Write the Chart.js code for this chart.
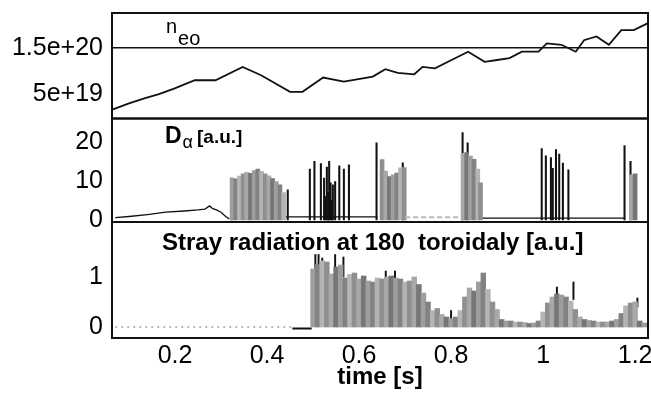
<!DOCTYPE html>
<html>
<head>
<meta charset="utf-8">
<script src="https://cdn.jsdelivr.net/npm/chart.js@4/dist/chart.umd.min.js"></script>
<style>
  html, body { margin: 0; padding: 0; background: #fff; }
  #wrap { width: 651px; height: 396px; }
</style>
</head>
<body>
<div id="wrap"><canvas id="chart" width="651" height="396"></canvas></div>
<script>
// tick labels
var timeTicks = [0.2, 0.4, 0.6, 0.8, 1, 1.2];
var neTicks = [5e19, 1.5e20];
var daTicks = [0, 10, 20];
var strayTicks = [0, 1];

// electron density n_eo (m^-3)
var neT = [0.065, 0.10, 0.135, 0.165, 0.198, 0.243, 0.288, 0.347, 0.387, 0.45, 0.477, 0.522, 0.567, 0.63, 0.657, 0.684, 0.72, 0.738, 0.765, 0.801, 0.837, 0.873, 0.90, 0.927, 0.954, 0.99, 1.008, 1.04, 1.071, 1.089, 1.116, 1.143, 1.17, 1.197, 1.228];
var neV = [0.17e20, 0.30e20, 0.41e20, 0.50e20, 0.62e20, 0.80e20, 0.80e20, 1.09e20, 0.91e20, 0.55e20, 0.55e20, 0.86e20, 0.77e20, 0.88e20, 1.04e20, 0.96e20, 0.93e20, 1.09e20, 1.06e20, 1.24e20, 1.42e20, 1.20e20, 1.24e20, 1.28e20, 1.42e20, 1.42e20, 1.60e20, 1.57e20, 1.42e20, 1.67e20, 1.75e20, 1.57e20, 1.89e20, 1.89e20, 2.04e20];

// D alpha: slow signal before the first burst
var daLineT = [0.07, 0.10, 0.14, 0.18, 0.22, 0.25, 0.265, 0.275, 0.282, 0.29, 0.30, 0.31, 0.318];
var daLineV = [0.6, 0.9, 1.4, 2.0, 2.3, 2.6, 2.8, 3.6, 2.9, 2.6, 2.0, 0.9, 0.3];
// D alpha: baseline between bursts
var daBaseT = [0.44, 0.64, 0.645, 0.865, 1.178];
var daBaseV = [0.8, 0.8, null, 0.5, 0.5];
var daFaintT = [0.70, 0.822];
var daFaintV = [0.7, 0.7];
// D alpha: grey bursts
var daGrayT = [0.324, 0.332, 0.340, 0.348, 0.356, 0.364, 0.372, 0.380, 0.388, 0.396, 0.404, 0.412, 0.420, 0.428, 0.436,
               0.650, 0.658, 0.666, 0.674, 0.682, 0.690, 0.698,
               0.826, 0.834, 0.842, 0.850, 0.858, 0.864,
               1.192, 1.200];
var daGrayV = [10.7, 10.5, 11.2, 11.8, 12.2, 11.9, 12.6, 13.0, 12.4, 11.8, 11.3, 10.6, 9.8, 9.0, 7.0,
               15.4, 12.5, 11.1, 11.5, 12.0, 13.3, 13.4,
               17.0, 17.2, 16.3, 15.5, 13.0, 9.5,
               11.5, 11.8];
// D alpha: ELM spikes
var daSpikeT = [0.323, 0.445, 0.493, 0.503, 0.517, 0.524, 0.527, 0.530, 0.533, 0.535, 0.538, 0.541, 0.543, 0.548, 0.557, 0.567, 0.578, 0.638, 0.695, 0.825, 0.836, 0.997, 1.006, 1.017, 1.021, 1.028, 1.035, 1.043, 1.055, 1.177, 1.19];
var daSpikeV = [10.7, 7.7, 13.0, 15.0, 14.4, 10.7, 6.0, 13.5, 7.0, 15.0, 9.5, 5.0, 9.0, 9.8, 13.8, 13.0, 14.1, 19.7, 14.6, 22.3, 19.7, 18.2, 16.4, 15.9, 13.2, 18.0, 16.8, 14.5, 12.8, 19.0, 15.0];

// stray radiation
var strayT = [0.50, 0.51, 0.52, 0.53, 0.54, 0.55, 0.56, 0.57, 0.58, 0.59, 0.60, 0.61, 0.62, 0.63, 0.64, 0.65, 0.66, 0.67, 0.68, 0.69,
              0.70, 0.71, 0.72, 0.73, 0.74, 0.75, 0.76, 0.77, 0.78, 0.79, 0.80, 0.81, 0.82, 0.83, 0.84, 0.85, 0.86, 0.87, 0.88, 0.89,
              0.90, 0.91, 0.92, 0.93, 0.94, 0.95, 0.96, 0.97, 0.98, 0.99, 1.00, 1.01, 1.02, 1.03, 1.04, 1.05, 1.06, 1.07, 1.08, 1.09,
              1.10, 1.11, 1.12, 1.13, 1.14, 1.15, 1.16, 1.17, 1.18, 1.19, 1.20, 1.21, 1.22];
var strayV = [1.16, 1.25, 1.32, 1.30, 1.06, 1.20, 1.24, 0.98, 1.05, 1.08, 0.96, 1.02, 0.92, 0.90, 0.98, 0.96, 1.00, 1.02, 0.98, 0.96,
              0.90, 0.92, 1.00, 0.85, 0.68, 0.50, 0.33, 0.37, 0.25, 0.20, 0.17, 0.20, 0.33, 0.60, 0.78, 0.72, 0.90, 1.08, 0.75, 0.50,
              0.35, 0.15, 0.12, 0.12, 0.10, 0.10, 0.09, 0.07, 0.08, 0.12, 0.30, 0.48, 0.60, 0.66, 0.64, 0.60, 0.52, 0.35, 0.20, 0.15,
              0.13, 0.12, 0.10, 0.10, 0.10, 0.12, 0.15, 0.27, 0.42, 0.48, 0.50, 0.12, 0.08];
var straySpikeT = [0.505, 0.512, 0.52, 0.548, 0.566, 0.658, 0.678, 0.80, 1.03, 1.066, 1.19, 1.205];
var straySpikeLo = [1.05, 1.20, 1.25, 1.15, 1.00, 0.95, 0.95, 0.15, 0.62, 0.55, 0.20, 0.40];
var straySpikeHi = [1.45, 1.45, 1.38, 1.45, 1.40, 1.12, 1.12, 0.33, 0.80, 0.90, 0.42, 0.58];
var strayZeroT = [0.07, 0.455];
var strayZeroV = [0, 0];
var strayOnT = [0.455, 0.497];
var strayOnV = [-0.03, -0.03];

var FONT = '"Liberation Sans", Arial, Helvetica, sans-serif';
var greys = ['#9e9e9e', '#828282', '#b4b4b4', '#8f8f8f', '#a8a8a8', '#767676'];

function pts(xs, ys) { return xs.map(function (x, i) { return { x: x, y: ys[i] }; }); }
function fixedTicks(list) { return function (s) { s.ticks = list.map(function (v) { return { value: v }; }); }; }

var framePlugin = {
  id: 'frames',
  afterDatasetsDraw: function (chart) {
    var ctx = chart.ctx, a = chart.chartArea;
    ctx.save();
    ctx.strokeStyle = '#111';
    ctx.lineWidth = 2;
    ['yNe', 'yDa', 'ySr'].forEach(function (id) {
      var s = chart.scales[id];
      ctx.strokeRect(a.left, s.top, a.right - a.left, s.bottom - s.top);
    });
    ctx.fillStyle = '#000';
    ctx.textBaseline = 'alphabetic';
    // n_eo
    var t1 = chart.scales.yNe.top;
    ctx.font = '20px ' + FONT;
    ctx.fillText('n', a.left + 54, t1 + 20);
    ctx.fillText('eo', a.left + 54 + ctx.measureText('n').width + 1, t1 + 32);
    // D alpha
    var t2 = chart.scales.yDa.top, x = a.left + 53;
    ctx.font = 'bold 23px ' + FONT;
    ctx.fillText('D', x, t2 + 24);
    x += ctx.measureText('D').width + 1;
    ctx.font = '18px ' + FONT;
    ctx.fillText('\u03b1', x, t2 + 29);
    x += ctx.measureText('\u03b1').width + 4;
    ctx.font = 'bold 19px ' + FONT;
    ctx.fillText('[a.u.]', x, t2 + 24);
    // stray radiation
    var t3 = chart.scales.ySr.top;
    ctx.font = 'bold 24px ' + FONT;
    ctx.fillText('Stray radiation at 180  toroidaly [a.u.]', a.left + 50, t3 + 28);
    ctx.restore();
  }
};

function yAxis(weight, min, max, ticks, cb, extra) {
  var o = {
    type: 'linear', position: 'left', stack: 'panels', stackWeight: weight,
    min: min, max: max, offset: false,
    border: { display: false },
    grid: { display: false, drawTicks: false },
    afterBuildTicks: fixedTicks(ticks),
    afterFit: function (s) { s.width = 112; s.paddingTop = 0; s.paddingBottom = 0; },
    ticks: { color: '#000', padding: 9, autoSkip: false, font: { family: FONT, size: 25 }, callback: cb }
  };
  return Object.assign(o, extra || {});
}

new Chart(document.getElementById('chart'), {
  type: 'line',
  data: {
    datasets: [
      { type: 'line', yAxisID: 'yNe', data: pts(neT, neV), borderColor: '#111', borderWidth: 1.8, pointRadius: 0, tension: 0 },
      { type: 'line', yAxisID: 'yDa', data: pts(daFaintT, daFaintV), borderColor: '#bbb', borderWidth: 2, borderDash: [5, 3], pointRadius: 0 },
      { type: 'bar', yAxisID: 'yDa', data: pts(daGrayT, daGrayV), grouped: false, barThickness: 4, borderWidth: 0,
        backgroundColor: function (c) { return greys[c.dataIndex % greys.length]; } },
      { type: 'bar', yAxisID: 'yDa', data: pts(daSpikeT, daSpikeV), grouped: false, barThickness: 1.4, borderWidth: 0, backgroundColor: '#111' },
      { type: 'line', yAxisID: 'yDa', data: pts(daLineT, daLineV), borderColor: '#111', borderWidth: 1.3, pointRadius: 0 },
      { type: 'line', yAxisID: 'yDa', data: pts(daBaseT, daBaseV), borderColor: '#111', borderWidth: 1.3, pointRadius: 0, spanGaps: false },
      { type: 'bar', yAxisID: 'ySr', data: pts(strayT, strayV), grouped: false, barThickness: 4.8, borderWidth: 0,
        backgroundColor: function (c) { return greys[c.dataIndex % greys.length]; } },
      { type: 'bar', yAxisID: 'ySr', grouped: false, barThickness: 1.3, borderWidth: 0, backgroundColor: '#111',
        data: straySpikeT.map(function (t, i) { return { x: t, y: [straySpikeLo[i], straySpikeHi[i]] }; }) },
      { type: 'line', yAxisID: 'ySr', data: pts(strayZeroT, strayZeroV), borderColor: '#777', borderWidth: 1, borderDash: [2, 4], pointRadius: 0 },
      { type: 'line', yAxisID: 'ySr', data: pts(strayOnT, strayOnV), borderColor: '#111', borderWidth: 2, pointRadius: 0 }
    ]
  },
  options: {
    responsive: false,
    animation: false,
    layout: { padding: { top: 13, right: 3, left: 0, bottom: 0 } },
    plugins: { legend: { display: false }, tooltip: { enabled: false } },
    scales: {
      x: {
        type: 'linear', min: 0.063, max: 1.228, offset: false,
        border: { display: false },
        grid: { display: false, drawTicks: false },
        afterBuildTicks: fixedTicks(timeTicks),
        afterFit: function (s) { s.height = 58; s.paddingLeft = 0; s.paddingRight = 0; },
        ticks: { color: '#000', padding: 3, maxRotation: 0, autoSkip: false, font: { family: FONT, size: 25 },
                 callback: function (v) { return String(v); } },
        title: { display: true, text: 'time [s]', color: '#000', padding: { top: 0, bottom: 4 },
                 font: { family: FONT, size: 24, weight: 'bold' } }
      },
      ySr: yAxis(116, -0.22, 2.1, strayTicks, function (v) { return String(v); }),
      yDa: yAxis(103.5, -0.5, 25.9, daTicks, function (v) { return String(v); }),
      yNe: yAxis(105.5, -0.03e20, 2.26e20, neTicks, function (v) { return v.toExponential(); }, {
        grid: { display: true, drawTicks: false, lineWidth: 1.6,
                color: function (c) { return c.tick && c.tick.value === 1.5e20 ? '#111' : 'rgba(0,0,0,0)'; } }
      })
    }
  },
  plugins: [framePlugin]
});
</script>
</body>
</html>
